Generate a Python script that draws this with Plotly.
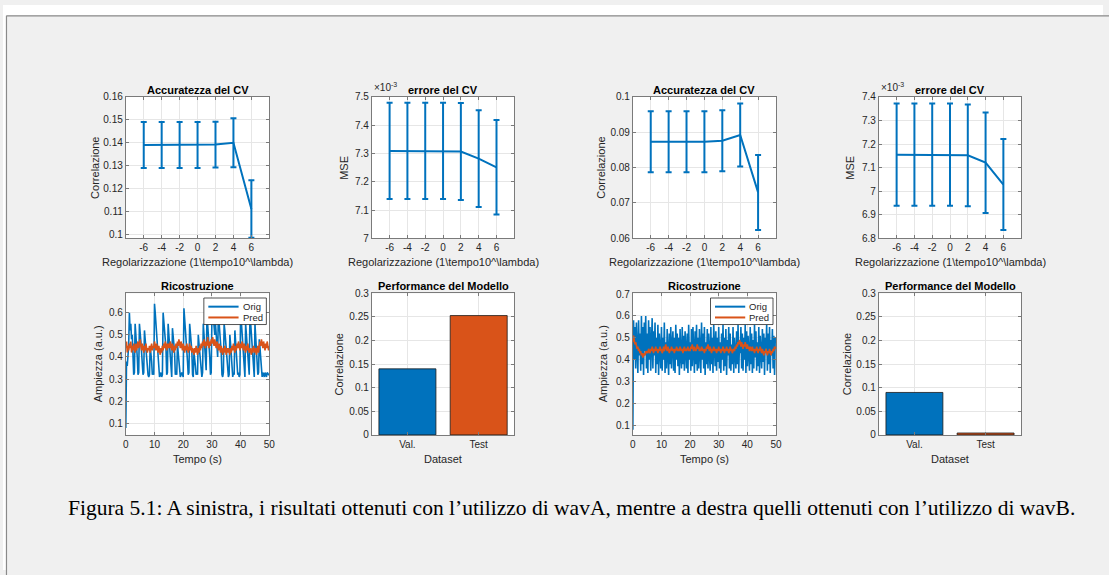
import plotly.graph_objects as go

W, H = 1109, 575

# ---------------- data ----------------
lam = [-6, -4, -2, 0, 2, 4, 6]
accA_mean = [0.1390, 0.1390, 0.1390, 0.1390, 0.1392, 0.1400, 0.1111]
accA_err = [0.0100, 0.0100, 0.0100, 0.0100, 0.0100, 0.0107, 0.0125]
mseA_mean = [7.309, 7.309, 7.309, 7.309, 7.307, 7.282, 7.251]   # x 1e-3
mseA_err = [0.170, 0.170, 0.170, 0.170, 0.171, 0.171, 0.167]
accB_mean = [0.0873, 0.0873, 0.0873, 0.0873, 0.0876, 0.0892, 0.0730]
accB_err = [0.0086, 0.0086, 0.0086, 0.0086, 0.0086, 0.0089, 0.0106]
mseB_mean = [7.155, 7.155, 7.155, 7.155, 7.152, 7.121, 7.028]   # x 1e-3
mseB_err = [0.217, 0.217, 0.217, 0.217, 0.216, 0.213, 0.193]

datasets = ["Val.", "Test"]
perfA = [0.140, 0.253]
perfB = [0.090, 0.004]

time_s = [i * 0.25 for i in range(201)]

origA = [
    0.08, 0.38, 0.36, 0.42, 0.45, 0.60, 0.52, 0.55, 0.48, 0.50, 0.42, 0.32,
    0.33, 0.55, 0.50, 0.46, 0.40, 0.32, 0.33, 0.55, 0.52, 0.47, 0.42, 0.32,
    0.32, 0.33, 0.52, 0.48, 0.44, 0.40, 0.33, 0.32, 0.31, 0.32, 0.45, 0.42,
    0.38, 0.32, 0.33, 0.32, 0.64, 0.60, 0.55, 0.50, 0.45, 0.40, 0.32, 0.31,
    0.32, 0.33, 0.31, 0.32, 0.60, 0.57, 0.52, 0.48, 0.44, 0.32, 0.33, 0.55,
    0.50, 0.45, 0.40, 0.32, 0.31, 0.53, 0.50, 0.46, 0.42, 0.32, 0.33, 0.32,
    0.46, 0.42, 0.38, 0.32, 0.31, 0.32, 0.33, 0.32, 0.31, 0.62, 0.58, 0.53,
    0.48, 0.43, 0.38, 0.32, 0.33, 0.55, 0.52, 0.47, 0.43, 0.32, 0.31, 0.42,
    0.40, 0.36, 0.32, 0.33, 0.32, 0.50, 0.46, 0.42, 0.38, 0.32, 0.31, 0.33,
    0.55, 0.50, 0.46, 0.40, 0.34, 0.57, 0.55, 0.50, 0.46, 0.40, 0.32, 0.33,
    0.58, 0.63, 0.58, 0.54, 0.50, 0.55, 0.48, 0.44, 0.40, 0.60, 0.56, 0.52,
    0.47, 0.42, 0.32, 0.31, 0.33, 0.55, 0.52, 0.48, 0.43, 0.38, 0.32, 0.31,
    0.32, 0.50, 0.46, 0.40, 0.32, 0.31, 0.33, 0.32, 0.52, 0.48, 0.44, 0.40,
    0.32, 0.33, 0.31, 0.32, 0.60, 0.56, 0.51, 0.46, 0.41, 0.32, 0.31, 0.55,
    0.50, 0.46, 0.42, 0.33, 0.32, 0.60, 0.55, 0.50, 0.46, 0.40, 0.32, 0.31,
    0.55, 0.50, 0.45, 0.41, 0.32, 0.33, 0.48, 0.44, 0.40, 0.32, 0.31, 0.33,
    0.32, 0.31, 0.33, 0.32, 0.31, 0.33, 0.32, 0.32, 0.32,
]
predA = [
    0.44, 0.47, 0.42, 0.45, 0.43, 0.46, 0.44, 0.47, 0.42, 0.45, 0.43, 0.46,
    0.44, 0.42, 0.46, 0.43, 0.45, 0.47, 0.44, 0.46, 0.48, 0.45, 0.43, 0.46,
    0.44, 0.42, 0.45, 0.43, 0.46, 0.44, 0.42, 0.44, 0.43, 0.45, 0.42, 0.44,
    0.46, 0.43, 0.45, 0.44, 0.47, 0.45, 0.43, 0.46, 0.44, 0.42, 0.45, 0.43,
    0.41, 0.44, 0.42, 0.45, 0.43, 0.46, 0.44, 0.47, 0.45, 0.43, 0.46, 0.44,
    0.46, 0.44, 0.47, 0.45, 0.43, 0.46, 0.44, 0.42, 0.45, 0.43, 0.46, 0.44,
    0.47, 0.45, 0.48, 0.46, 0.44, 0.47, 0.45, 0.43, 0.46, 0.44, 0.42, 0.45,
    0.43, 0.46, 0.44, 0.42, 0.44, 0.46, 0.43, 0.45, 0.42, 0.44, 0.43, 0.41,
    0.44, 0.42, 0.45, 0.43, 0.41, 0.44, 0.42, 0.45, 0.43, 0.46, 0.44, 0.47,
    0.45, 0.48, 0.46, 0.44, 0.47, 0.45, 0.49, 0.46, 0.44, 0.47, 0.45, 0.48,
    0.46, 0.49, 0.47, 0.45, 0.48, 0.46, 0.44, 0.47, 0.45, 0.43, 0.46, 0.44,
    0.42, 0.45, 0.43, 0.41, 0.44, 0.42, 0.45, 0.43, 0.41, 0.44, 0.42, 0.44,
    0.43, 0.41, 0.44, 0.42, 0.45, 0.43, 0.46, 0.44, 0.42, 0.45, 0.43, 0.46,
    0.44, 0.47, 0.45, 0.43, 0.46, 0.44, 0.47, 0.45, 0.43, 0.46, 0.44, 0.42,
    0.45, 0.43, 0.46, 0.44, 0.42, 0.44, 0.43, 0.41, 0.44, 0.42, 0.45, 0.43,
    0.42, 0.44, 0.41, 0.43, 0.45, 0.42, 0.44, 0.47, 0.45, 0.48, 0.46, 0.44,
    0.47, 0.45, 0.43, 0.46, 0.44, 0.47, 0.45, 0.43, 0.45,
]
origB = [
    0.08, 0.58, 0.40, 0.55, 0.36, 0.57, 0.45, 0.34, 0.58, 0.42, 0.52, 0.35,
    0.60, 0.38, 0.55, 0.33, 0.57, 0.44, 0.60, 0.36, 0.52, 0.34, 0.58, 0.40,
    0.55, 0.35, 0.47, 0.59, 0.36, 0.53, 0.42, 0.57, 0.34, 0.50, 0.38, 0.56,
    0.33, 0.52, 0.45, 0.36, 0.55, 0.35, 0.50, 0.40, 0.57, 0.34, 0.48, 0.36,
    0.54, 0.42, 0.33, 0.52, 0.38, 0.55, 0.36, 0.47, 0.53, 0.35, 0.50, 0.34,
    0.56, 0.40, 0.52, 0.37, 0.50, 0.33, 0.54, 0.42, 0.36, 0.55, 0.38, 0.51,
    0.35, 0.53, 0.44, 0.36, 0.52, 0.34, 0.56, 0.40, 0.48, 0.35, 0.54, 0.37,
    0.55, 0.42, 0.34, 0.53, 0.38, 0.56, 0.35, 0.50, 0.36, 0.54, 0.45, 0.34,
    0.57, 0.40, 0.52, 0.36, 0.55, 0.33, 0.48, 0.38, 0.54, 0.36, 0.52, 0.42,
    0.35, 0.55, 0.38, 0.50, 0.34, 0.56, 0.44, 0.37, 0.53, 0.35, 0.50, 0.39,
    0.55, 0.36, 0.48, 0.34, 0.52, 0.40, 0.56, 0.35, 0.50, 0.37, 0.54, 0.33,
    0.49, 0.42, 0.55, 0.36, 0.52, 0.35, 0.47, 0.38, 0.55, 0.34, 0.50, 0.41,
    0.36, 0.53, 0.38, 0.56, 0.34, 0.48, 0.43, 0.55, 0.36, 0.52, 0.35, 0.50,
    0.40, 0.56, 0.34, 0.53, 0.37, 0.51, 0.44, 0.35, 0.55, 0.38, 0.52, 0.34,
    0.49, 0.36, 0.56, 0.41, 0.53, 0.35, 0.48, 0.37, 0.55, 0.34, 0.51, 0.43,
    0.36, 0.54, 0.39, 0.52, 0.33, 0.50, 0.45, 0.56, 0.35, 0.52, 0.38, 0.55,
    0.34, 0.49, 0.42, 0.54, 0.36, 0.51, 0.33, 0.50, 0.48,
]
predB = [
    0.48, 0.51, 0.49, 0.47, 0.48, 0.46, 0.45, 0.46, 0.44, 0.45, 0.43, 0.44,
    0.42, 0.43, 0.41, 0.42, 0.43, 0.42, 0.44, 0.43, 0.44, 0.43, 0.45, 0.44,
    0.43, 0.45, 0.44, 0.46, 0.44, 0.43, 0.45, 0.44, 0.46, 0.44, 0.45, 0.43,
    0.45, 0.44, 0.46, 0.44, 0.45, 0.43, 0.44, 0.46, 0.44, 0.45, 0.47, 0.45,
    0.44, 0.46, 0.44, 0.43, 0.45, 0.44, 0.46, 0.45, 0.44, 0.45, 0.43, 0.45,
    0.44, 0.46, 0.45, 0.44, 0.45, 0.44, 0.46, 0.45, 0.44, 0.45, 0.43, 0.45,
    0.46, 0.44, 0.45, 0.44, 0.45, 0.46, 0.44, 0.45, 0.44, 0.46, 0.45, 0.47,
    0.45, 0.44, 0.46, 0.45, 0.44, 0.45, 0.47, 0.45, 0.46, 0.44, 0.45, 0.44,
    0.46, 0.45, 0.44, 0.45, 0.43, 0.45, 0.44, 0.46, 0.45, 0.47, 0.45, 0.44,
    0.46, 0.45, 0.43, 0.45, 0.44, 0.46, 0.45, 0.44, 0.45, 0.43, 0.45, 0.44,
    0.46, 0.44, 0.45, 0.43, 0.45, 0.44, 0.46, 0.44, 0.43, 0.45, 0.44, 0.46,
    0.44, 0.45, 0.43, 0.44, 0.46, 0.44, 0.45, 0.43, 0.44, 0.45, 0.44, 0.46,
    0.45, 0.47, 0.46, 0.48, 0.47, 0.49, 0.48, 0.46, 0.48, 0.47, 0.45, 0.47,
    0.46, 0.48, 0.46, 0.45, 0.47, 0.45, 0.46, 0.44, 0.46, 0.45, 0.44, 0.46,
    0.44, 0.45, 0.43, 0.45, 0.44, 0.46, 0.44, 0.43, 0.45, 0.44, 0.46, 0.44,
    0.43, 0.45, 0.44, 0.42, 0.44, 0.43, 0.45, 0.43, 0.42, 0.44, 0.43, 0.45,
    0.43, 0.42, 0.44, 0.43, 0.45, 0.44, 0.46, 0.45, 0.45,
]

series_names = ["Orig", "Pred"]

caption = ("Figura 5.1: A sinistra, i risultati ottenuti con l\u2019utilizzo di wavA, "
           "mentre a destra quelli ottenuti con l\u2019utilizzo di wavB.")

# ---------------- styling ----------------
BLUE = "#0072BD"
ORANGE = "#D95319"
AX = "#262626"
GRID = "#e6e6e6"
FONT = "Liberation Sans"

cols = [(123.8, 268.5), (371.8, 515.5), (635.0, 779.3), (883.0, 1026.5)]
rows = [(93.5, 237.5), (293.5, 437.5)]


def xd(a, b):
    return [a / W, b / W]


def yd(a, b):
    return [1 - b / H, 1 - a / H]


def px(x):
    return x / W


def py(y):
    return 1 - y / H


fig = go.Figure()


def axis_common():
    return dict(showline=True, linecolor="#7a7a7a", linewidth=1, mirror="ticks",
                ticks="inside", ticklen=3, tickcolor="#7a7a7a", showgrid=True,
                gridcolor=GRID, gridwidth=1, zeroline=False,
                tickfont=dict(family=FONT, size=10, color=AX))


layout = {}
positions = {1: (0, 0), 2: (0, 1), 3: (0, 2), 4: (0, 3),
             5: (1, 0), 6: (1, 1), 7: (1, 2), 8: (1, 3)}
yranges = {1: [0.0983, 0.16], 2: [7.0, 7.5], 3: [0.06, 0.1], 4: [6.8, 7.4],
           5: [0.0485, 0.687], 6: [0, 0.3], 7: [0.057, 0.703], 8: [0, 0.3]}
ydticks = {1: 0.01, 2: 0.1, 3: 0.01, 4: 0.1, 5: 0.1, 6: 0.05, 7: 0.1, 8: 0.05}
ytick0 = {1: 0.1, 2: 7.0, 3: 0.06, 4: 6.8, 5: 0.1, 6: 0.0, 7: 0.1, 8: 0.0}

for k, (r, c) in positions.items():
    xa = axis_common()
    ya = axis_common()
    xa["domain"] = xd(*cols[c])
    ya["domain"] = yd(*rows[r])
    ya["range"] = yranges[k]
    ya["tick0"] = ytick0[k]
    ya["dtick"] = ydticks[k]
    ya["anchor"] = "x%d" % k
    xa["anchor"] = "y%d" % k
    if r == 0:
        xa["range"] = [-8, 8]
        xa["tickvals"] = lam
        xa["ticktext"] = [str(v) for v in lam]
    elif k in (5, 7):
        xa["range"] = [0, 50]
        xa["dtick"] = 10
        xa["tick0"] = 0
    else:
        xa["range"] = [0.5, 2.5]
        xa["tickvals"] = [1, 2]
        xa["ticktext"] = datasets
    layout["xaxis%d" % k] = xa
    layout["yaxis%d" % k] = ya


def eb(k, mean, err):
    fig.add_trace(go.Scatter(
        x=lam, y=mean, mode="lines", line=dict(color=BLUE, width=2),
        error_y=dict(type="data", array=err, visible=True, color=BLUE,
                     thickness=2, width=3),
        xaxis="x%d" % k, yaxis="y%d" % k, showlegend=False))


eb(1, accA_mean, accA_err)
eb(2, mseA_mean, mseA_err)
eb(3, accB_mean, accB_err)
eb(4, mseB_mean, mseB_err)

for k, orig, pred in ((5, origA, predA), (7, origB, predB)):
    fig.add_trace(go.Scatter(x=time_s, y=orig, mode="lines", name=series_names[0],
                             line=dict(color=BLUE, width=1.6), showlegend=False,
                             xaxis="x%d" % k, yaxis="y%d" % k))
    fig.add_trace(go.Scatter(x=time_s, y=pred, mode="lines", name=series_names[1],
                             line=dict(color=ORANGE, width=1.6), showlegend=False,
                             xaxis="x%d" % k, yaxis="y%d" % k))

for k, perf in ((6, perfA), (8, perfB)):
    fig.add_trace(go.Bar(x=[1, 2], y=perf, width=0.8,
                         marker=dict(color=[BLUE, ORANGE],
                                     line=dict(color="#1a1a1a", width=0.8)),
                         xaxis="x%d" % k, yaxis="y%d" % k, showlegend=False))

annotations = []
shapes = []
titles = {1: "Accuratezza del CV", 2: "errore del CV", 3: "Accuratezza del CV",
          4: "errore del CV", 5: "Ricostruzione", 6: "Performance del Modello",
          7: "Ricostruzione", 8: "Performance del Modello"}
XL = "Regolarizzazione (1\\tempo10^\\lambda)"
xlabels = {1: XL, 2: XL, 3: XL, 4: XL,
           5: "Tempo (s)", 6: "Dataset", 7: "Tempo (s)", 8: "Dataset"}
ylabels = {1: "Correlazione", 2: "MSE", 3: "Correlazione", 4: "MSE",
           5: "Ampiezza (a.u.)", 6: "Correlazione", 7: "Ampiezza (a.u.)", 8: "Correlazione"}
ylabel_x = {1: 92, 2: 343, 3: 603, 4: 854, 5: 96, 6: 339, 7: 605, 8: 851}

for k, (r, c) in positions.items():
    x0, x1 = cols[c]
    y0, y1 = rows[r]
    cx = (x0 + x1) / 2
    annotations.append(dict(text="<b>%s</b>" % titles[k], x=px(cx), y=py(y0 - 7.5),
                            xref="paper", yref="paper", showarrow=False,
                            xanchor="center", yanchor="middle",
                            font=dict(family=FONT, size=11, color="black")))
    annotations.append(dict(text=xlabels[k], x=px(cx), y=py(y1 + 24.5),
                            xref="paper", yref="paper", showarrow=False,
                            xanchor="center", yanchor="middle",
                            font=dict(family=FONT, size=11, color=AX)))
    annotations.append(dict(text=ylabels[k], x=px(ylabel_x[k]), y=py((y0 + y1) / 2),
                            xref="paper", yref="paper", showarrow=False, textangle=-90,
                            xanchor="center", yanchor="middle",
                            font=dict(family=FONT, size=11, color=AX)))

for c in (1, 3):
    annotations.append(dict(text="\u00d710<sup>-3</sup>", x=px(cols[c][0] + 0.5),
                            y=py(91.5), xref="paper", yref="paper", showarrow=False,
                            xanchor="left", yanchor="bottom",
                            font=dict(family=FONT, size=10, color=AX)))

# key boxes for the two reconstruction panels
for c in (0, 2):
    bx1 = cols[c][1] - 3
    bx0 = bx1 - 63
    by0 = rows[1][0] + 4.7
    by1 = by0 + 27
    shapes.append(dict(type="rect", xref="paper", yref="paper",
                       x0=px(bx0), x1=px(bx1), y0=py(by1), y1=py(by0),
                       fillcolor="white", line=dict(color="#262626", width=0.8)))
    for i, (nm, colr) in enumerate(zip(series_names, [BLUE, ORANGE])):
        ly = by0 + 8.8 + i * 11
        shapes.append(dict(type="line", xref="paper", yref="paper",
                           x0=px(bx0 + 4.5), x1=px(bx0 + 35), y0=py(ly), y1=py(ly),
                           line=dict(color=colr, width=2)))
        annotations.append(dict(text=nm, x=px(bx0 + 37), y=py(ly), xref="paper",
                                yref="paper", showarrow=False, xanchor="left",
                                yanchor="middle",
                                font=dict(family=FONT, size=9.5, color=AX)))

annotations.append(dict(text=caption, x=px(573.5), y=py(512), xref="paper", yref="paper",
                        showarrow=False, xanchor="center", yanchor="middle",
                        font=dict(family="Liberation Serif", size=21.5, color="black")))

shapes += [
    dict(type="rect", xref="paper", yref="paper", x0=0, x1=1, y0=py(10.5), y1=1,
         fillcolor="white", line=dict(width=0), layer="above"),
    dict(type="rect", xref="paper", yref="paper", x0=0, x1=px(3), y0=0, y1=1,
         fillcolor="white", line=dict(width=0), layer="above"),
    dict(type="line", xref="paper", yref="paper", x0=px(3.5), x1=1.01, y0=py(11), y1=py(11),
         line=dict(color="#8a8a8a", width=1.2)),
    dict(type="line", xref="paper", yref="paper", x0=px(3.5), x1=px(3.5), y0=-0.01, y1=py(11),
         line=dict(color="#8a8a8a", width=1.2)),
]

fig.update_layout(
    width=W, height=H, margin=dict(l=0, r=0, t=0, b=0),
    paper_bgcolor="#f0f0f0", plot_bgcolor="white",
    annotations=annotations, shapes=shapes, showlegend=False,
    **layout,
)

fig.write_html("out.html",
               post_script="document.body.style.margin='0px';"
                           "document.body.style.padding='0px';"
                           "document.body.style.background='#f0f0f0';"
                           "document.documentElement.style.background='#f0f0f0';"
                           "document.documentElement.style.overflow='hidden';")
